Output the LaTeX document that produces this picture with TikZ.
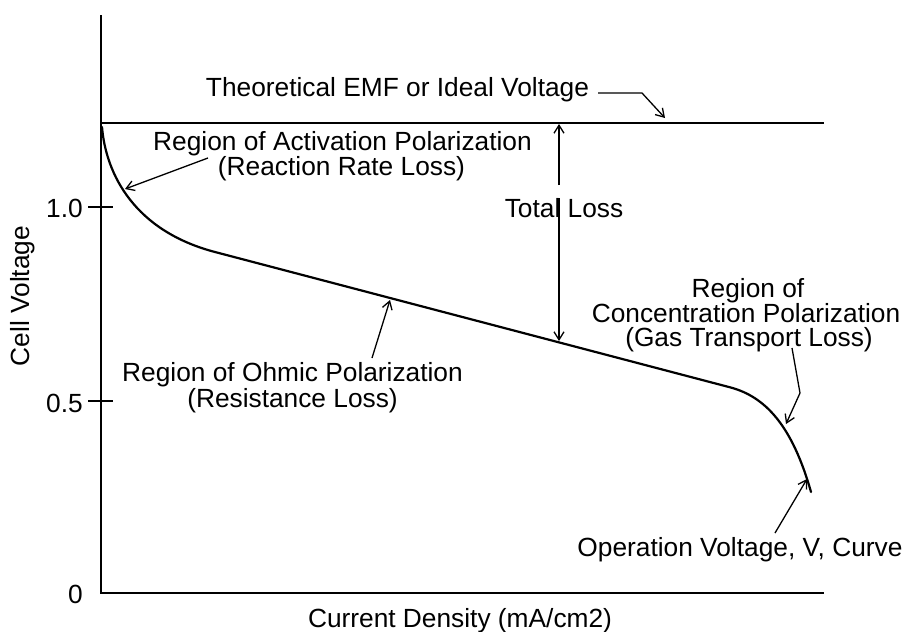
\documentclass[tikz,border=0pt]{standalone}
\usepackage{fontspec}
\setmainfont{Liberation Sans}
\usetikzlibrary{arrows.meta}
\begin{document}
\begin{tikzpicture}[x=1pt,y=-1pt,
  every node/.style={font=\fontsize{26.3}{30}\selectfont, inner sep=0pt},
  lbl/.style={anchor=base},
  axisline/.style={line width=1.5pt},
  curveline/.style={line width=2.2pt, line cap=round},
  ptr/.style={line width=1.3pt, -{Straight Barb[length=8pt,width=10pt]}}]
\useasboundingbox (0,0) rectangle (908,632);
% axes
\coordinate (O) at (101,593);
\coordinate (Ytop) at (101,15);
\coordinate (Xend) at (824,593);
\draw[axisline] (Ytop) -- (O) -- (Xend);
% ideal voltage line
\coordinate (E0) at (101,123);
\coordinate (E1) at (824,123);
\draw[axisline] (E0) -- (E1);
% ticks
\coordinate (t1a) at (88,207); \coordinate (t1b) at (113,207);
\coordinate (t5a) at (88,401); \coordinate (t5b) at (113,401);
\draw[axisline] (t1a) -- (t1b);
\draw[axisline] (t5a) -- (t5b);
% tick labels
\node[anchor=base east] (l10) at (83,217) {1.0};
\node[anchor=base east] (l05) at (83,412) {0.5};
\node[anchor=base east] (l00) at (83,603) {0};
% axis titles
\node[rotate=90, anchor=base] (ylab) at (29,296) {Cell Voltage};
\node[lbl] (xlab) at (460,627) {Current Density (mA/cm2)};
% curve
\draw[curveline] (102,127) .. controls (106,175) and (135,231) .. (215,252)
  -- (730,387.3) .. controls (765,396.5) and (792,425) .. (811,492);
% labels
\node[lbl] (emf) at (397.5,96) {Theoretical EMF or Ideal Voltage};
\node[lbl] (act1) at (342.5,150) {Region of Activation Polarization};
\node[lbl] (act2) at (341.5,175) {(Reaction Rate Loss)};
\node[lbl] (tot) at (564,217) {Total Loss};
\node[lbl] (con1) at (748,297) {Region of};
\node[lbl] (con2) at (746,322) {Concentration Polarization};
\node[lbl] (con3) at (749,346) {(Gas Transport Loss)};
\node[lbl] (ohm1) at (292.5,381) {Region of Ohmic Polarization};
\node[lbl] (ohm2) at (292.5,407) {(Resistance Loss)};
\node[lbl] (op) at (740,556) {Operation Voltage, V, Curve};
% pointer coordinates
\coordinate (emfA) at (598,93); \coordinate (emfB) at (642,93); \coordinate (emfT) at (665,118);
\coordinate (totU0) at (559,185); \coordinate (totU1) at (559,124);
\coordinate (totD0) at (559,198); \coordinate (totD1) at (559,341);
\coordinate (actA) at (208,158); \coordinate (actT) at (125,189);
\coordinate (ohmA) at (372,358); \coordinate (ohmT) at (390,300);
\coordinate (conA) at (792,348); \coordinate (conB) at (800,393); \coordinate (conT) at (786,424);
\coordinate (opA) at (775,533); \coordinate (opT) at (807,479);
% pointers
\draw[ptr] (emfA) -- (emfB) -- (emfT);
\draw[ptr] (totU0) -- (totU1);
\draw[ptr] (totD0) -- (totD1);
\draw[ptr] (actA) -- (actT);
\draw[ptr] (ohmA) -- (ohmT);
\draw[ptr] (conA) -- (conB) -- (conT);
\draw[ptr] (opA) -- (opT);
\end{tikzpicture}
\end{document}
